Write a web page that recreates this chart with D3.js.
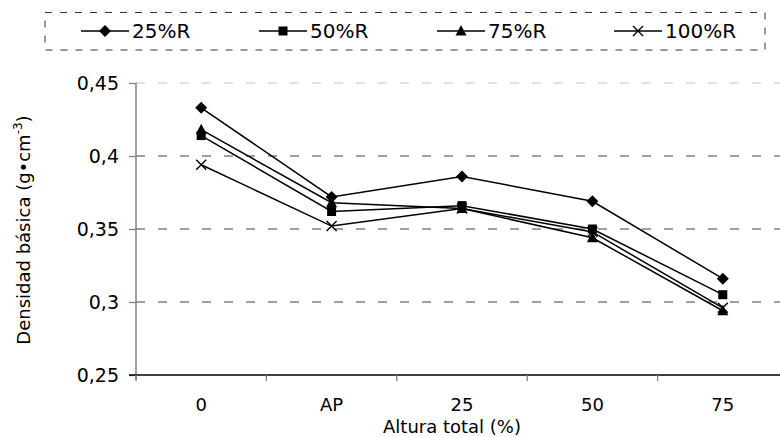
<!DOCTYPE html>
<html><head><meta charset="utf-8">
<script src="https://cdn.jsdelivr.net/npm/d3@7"></script>
<style>
html,body{margin:0;padding:0;background:#fff;}
svg{display:block;font-family:"DejaVu Sans",Verdana,sans-serif;}
</style></head>
<body>
<svg id="c" width="780" height="437"></svg>
<script>
const categories = ["0", "AP", "25", "50", "75"];
const s25 = [0.433, 0.372, 0.386, 0.369, 0.316];
const s50 = [0.414, 0.362, 0.366, 0.350, 0.305];
const s75 = [0.418, 0.368, 0.364, 0.344, 0.294];
const s100 = [0.394, 0.352, 0.364, 0.348, 0.296];
const seriesNames = ["25%R", "50%R", "75%R", "100%R"];
const markers = ["diamond", "square", "triangle", "x"];
const yTicks = [0.25, 0.3, 0.35, 0.4, 0.45];
const yTickLabels = ["0,25", "0,3", "0,35", "0,4", "0,45"];

(function () {
const series = [s25, s50, s75, s100].map((v, i) => ({name: seriesNames[i], values: v, marker: markers[i]}));

const svg = d3.select("#c");
const pLeft = 136, pBottom = 375, pTop = 83, pRight = 788;
const x = d3.scaleBand().domain(categories).range([pLeft, pRight]).paddingInner(0).paddingOuter(0);
const y = d3.scaleLinear().domain([0.25, 0.45]).range([pBottom, pTop]);

// gridlines
svg.append("g").selectAll("line").data(yTicks.filter(d => d > 0.25)).join("line")
  .attr("x1", pLeft).attr("x2", 780)
  .attr("y1", d => y(d)).attr("y2", d => y(d))
  .attr("stroke", d => d === 0.45 ? "#d8d8d8" : "#808080")
  .attr("stroke-width", 1.3)
  .attr("stroke-dasharray", "9,13");

// y axis
const yAxis = d3.axisLeft(y).tickValues(yTicks).tickSize(7).tickPadding(10)
  .tickFormat((d, i) => yTickLabels[i]);
const gy = svg.append("g").attr("transform", `translate(${pLeft},0)`).call(yAxis);
gy.select(".domain").attr("stroke", "#808080").attr("stroke-width", 1.5)
  .attr("d", `M0,${pTop}V${pBottom + 5}`);
gy.selectAll(".tick line").attr("stroke", "#808080").attr("stroke-width", 1.3);
gy.selectAll(".tick text").attr("font-size", 19).attr("fill", "#000")
  .attr("font-family", "DejaVu Sans, Verdana, sans-serif").attr("dy", "0.36em");

// x axis
const xAxis = d3.axisBottom(x).tickSize(0).tickPadding(0);
const gx = svg.append("g").attr("transform", `translate(0,${pBottom})`).call(xAxis);
gx.select(".domain").attr("stroke", "#000").attr("stroke-width", 1.3)
  .attr("d", `M${pLeft - 7},0H780`);
gx.selectAll(".tick text").attr("font-size", 18).attr("fill", "#000")
  .attr("font-family", "DejaVu Sans, Verdana, sans-serif")
  .attr("y", 36).attr("dy", 0);
// tick marks at band boundaries
svg.append("g").selectAll("line").data(categories).join("line")
  .attr("x1", d => x(d)).attr("x2", d => x(d))
  .attr("y1", pBottom).attr("y2", pBottom + 6)
  .attr("stroke", "#808080").attr("stroke-width", 1.3);

const cx = d => x(d) + x.bandwidth() / 2;

function drawMarker(g, type, px, py) {
  if (type === "diamond") {
    g.append("path").attr("d", `M${px},${py - 6}L${px + 6},${py}L${px},${py + 6}L${px - 6},${py}Z`).attr("fill", "#000");
  } else if (type === "square") {
    g.append("rect").attr("x", px - 4.5).attr("y", py - 4.5).attr("width", 9).attr("height", 9).attr("fill", "#000");
  } else if (type === "triangle") {
    g.append("path").attr("d", `M${px},${py - 6}L${px + 5.5},${py + 4.5}L${px - 5.5},${py + 4.5}Z`).attr("fill", "#000");
  } else {
    g.append("path").attr("d", `M${px - 5},${py - 5}L${px + 5},${py + 5}M${px - 5},${py + 5}L${px + 5},${py - 5}`)
      .attr("stroke", "#000").attr("stroke-width", 1.4).attr("fill", "none");
  }
}

const line = d3.line().x((d, i) => cx(categories[i])).y(d => y(d));
const gs = svg.append("g");
series.forEach(s => {
  gs.append("path").attr("d", line(s.values)).attr("fill", "none")
    .attr("stroke", "#000").attr("stroke-width", 1.5);
});
series.forEach(s => {
  const g = gs.append("g");
  s.values.forEach((v, i) => drawMarker(g, s.marker, cx(categories[i]), y(v)));
});

// axis titles
svg.append("text").attr("x", 452).attr("y", 432.5).attr("text-anchor", "middle")
  .attr("font-size", 18).text("Altura total (%)");
const yt = svg.append("text").attr("transform", "translate(30,230) rotate(-90)")
  .attr("text-anchor", "middle").attr("font-size", 18);
yt.append("tspan").text("Densidad básica (g•cm");
yt.append("tspan").attr("font-size", 12).attr("dy", -8).text("-3");
yt.append("tspan").attr("dy", 8).text(")");

// legend
const lg = svg.append("g");
lg.append("rect").attr("x", 45).attr("y", 12.5).attr("width", 720).attr("height", 37.5)
  .attr("fill", "none").attr("stroke", "#333").attr("stroke-width", 1).attr("stroke-dasharray", "7,8");
const legendX = [81, 259, 437, 614];
series.forEach((s, i) => {
  const lx = legendX[i], ly = 31;
  lg.append("line").attr("x1", lx).attr("x2", lx + 48).attr("y1", ly).attr("y2", ly)
    .attr("stroke", "#000").attr("stroke-width", 1.5);
  drawMarker(lg, s.marker, lx + 24, ly);
  lg.append("text").attr("x", lx + 51).attr("y", ly + 7).attr("font-size", 20).text(s.name);
});
})();
</script>
</body></html>
